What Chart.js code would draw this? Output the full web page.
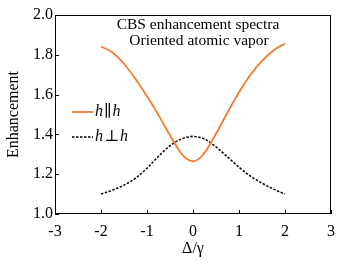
<!DOCTYPE html>
<html>
<head>
<meta charset="utf-8">
<script src="https://cdn.jsdelivr.net/npm/chart.js@4.4.0/dist/chart.umd.min.js"></script>
<style>
  html, body { margin: 0; padding: 0; background: #fff; }
  #wrap { width: 346px; height: 269px; position: relative; }
</style>
</head>
<body>
<div id="wrap"><canvas id="chart"></canvas></div>
<script>
// detuning (x) values
var detuning = [-2, -1.75, -1.5, -1.25, -1, -0.75, -0.5, -0.25, -0.125, 0, 0.125, 0.25, 0.5, 0.75, 1, 1.25, 1.5, 1.75, 2];
// h || h (orange)
var parallel = [1.842, 1.812, 1.755, 1.678, 1.592, 1.497, 1.396, 1.303, 1.275, 1.265, 1.277, 1.308, 1.403, 1.51, 1.612, 1.70, 1.77, 1.822, 1.857];
// h ⊥ h (black dashed)
var perpendicular = [1.10, 1.12, 1.145, 1.18, 1.23, 1.29, 1.343, 1.377, 1.386, 1.39, 1.386, 1.377, 1.337, 1.287, 1.235, 1.19, 1.155, 1.125, 1.10];
var xTicks = [-3, -2, -1, 0, 1, 2, 3];
var yTicks = [1.0, 1.2, 1.4, 1.6, 1.8, 2.0];

var serif = "'Liberation Serif', 'DejaVu Serif', serif";

function pts(ys) {
    return detuning.map(function(x, i){ return {x: x, y: ys[i]}; });
}

// box, inward ticks, titles and legend
var decor = {
    id: 'decor',
    afterDraw: function(chart){
        var c = chart.ctx, a = chart.chartArea;
        var xs = chart.scales.x, ys = chart.scales.y;
        c.save();
        c.strokeStyle = '#000';
        c.lineWidth = 1;
        c.strokeRect(a.left + 0.5, a.top + 0.5, a.right - a.left - 1, a.bottom - a.top - 1);
        c.beginPath();
        xTicks.forEach(function(t){
            var px = Math.round(xs.getPixelForValue(t)) + 0.5;
            c.moveTo(px, a.bottom); c.lineTo(px, a.bottom - 4);
        });
        yTicks.forEach(function(t){
            var py = Math.round(ys.getPixelForValue(t)) + 0.5;
            c.moveTo(a.left, py); c.lineTo(a.left + 4, py);
        });
        c.stroke();

        c.fillStyle = '#000';
        c.textAlign = 'center';
        c.textBaseline = 'middle';
        c.font = '15.5px ' + serif;
        c.fillText('CBS enhancement spectra', 198, 25);
        c.fillText('Oriented atomic vapor', 199, 41);

        // legend
        c.lineWidth = 1.8;
        c.strokeStyle = '#f47c2c';
        c.beginPath(); c.moveTo(72, 112); c.lineTo(93, 112); c.stroke();
        c.strokeStyle = '#000';
        c.lineWidth = 1.5;
        c.setLineDash([2.5, 1.5]);
        c.beginPath(); c.moveTo(72, 137); c.lineTo(93, 137); c.stroke();
        c.setLineDash([]);

        c.textAlign = 'left';
        function label(sym, y){
            var x = 95;
            c.font = 'italic 16px ' + serif;
            c.fillText('h', x, y); x += c.measureText('h').width + 1;
            c.font = '16px ' + serif;
            c.fillText(sym, x, y); x += c.measureText(sym).width + 1;
            c.font = 'italic 16px ' + serif;
            c.fillText('h', x, y);
        }
        label('\u2225', 112);
        label('\u22A5', 137);
        c.restore();
    }
};

new Chart(document.getElementById('chart'), {
    type: 'line',
    data: {
        datasets: [{
            label: 'h\u2225h',
            data: pts(parallel),
            borderColor: '#f47c2c',
            borderWidth: 1.8,
            pointRadius: 0,
            cubicInterpolationMode: 'monotone',
            fill: false
        }, {
            label: 'h\u22A5h',
            data: pts(perpendicular),
            borderColor: '#111',
            borderWidth: 1.6,
            borderDash: [2.5, 1.5],
            pointRadius: 0,
            cubicInterpolationMode: 'monotone',
            fill: false
        }]
    },
    options: {
        responsive: true,
        maintainAspectRatio: false,
        animation: false,
        devicePixelRatio: 1,
        layout: { padding: { left: 0, right: 15, top: 15, bottom: 0 } },
        plugins: { legend: { display: false }, tooltip: { enabled: false } },
        scales: {
            x: {
                type: 'linear',
                min: -3, max: 3,
                afterBuildTicks: function(s){ s.ticks = xTicks.map(function(v){ return {value: v}; }); },
                afterFit: function(s){ s.height = 55; },
                grid: { display: false, drawTicks: false },
                border: { display: false },
                ticks: { color: '#000', font: { family: serif, size: 16 }, padding: 8, maxRotation: 0 },
                title: { display: true, text: '\u0394/\u03B3', color: '#000', font: { family: serif, size: 16 }, padding: { top: 0, bottom: 11 } }
            },
            y: {
                min: 1.0, max: 2.0,
                afterBuildTicks: function(s){ s.ticks = yTicks.map(function(v){ return {value: v}; }); },
                afterFit: function(s){ s.width = 55; },
                grid: { display: false, drawTicks: false },
                border: { display: false },
                ticks: { color: '#000', font: { family: serif, size: 16 }, padding: 2,
                    callback: function(v){ return Number(v).toFixed(1); } },
                title: { display: true, text: 'Enhancement', color: '#000', font: { family: serif, size: 16 }, padding: { bottom: 0 } }
            }
        }
    },
    plugins: [decor]
});
</script>
</body>
</html>
